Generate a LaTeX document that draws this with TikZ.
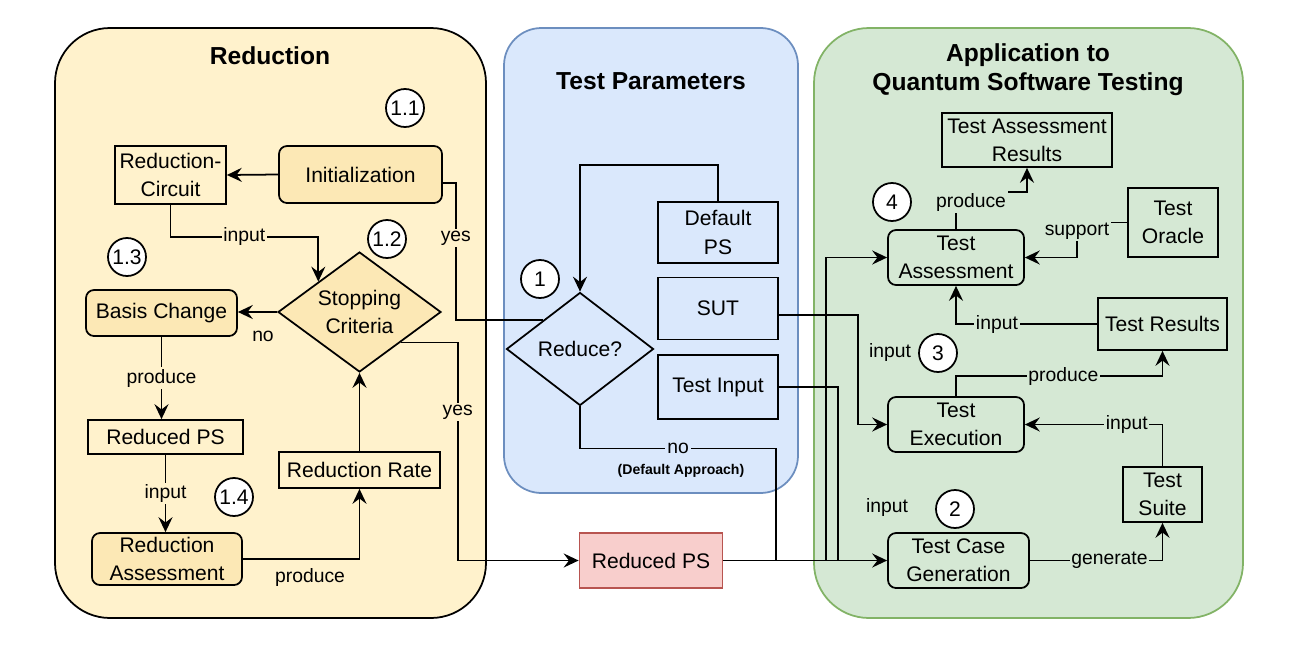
\documentclass[tikz,border=0pt]{standalone}
\usepackage{fontspec}
\setmainfont{Liberation Sans}
\usepackage{xcolor}
\usepackage{tikz}
\usetikzlibrary{calc}
\usetikzlibrary{shapes.geometric}
\usetikzlibrary{arrows.meta}
\definecolor{redbg}{HTML}{FFF2CC}
\definecolor{procfill}{HTML}{FCE8B5}
\definecolor{parbg}{HTML}{DAE8FC}
\definecolor{parline}{HTML}{6C8EBF}
\definecolor{appbg}{HTML}{D5E8D4}
\definecolor{appline}{HTML}{82B366}
\definecolor{psfill}{HTML}{F8CECC}
\definecolor{psline}{HTML}{B85450}
\tikzstyle{panel} = [line width=1pt]
\tikzstyle{paneltitle} = [font=\fontsize{14}{16.5}\selectfont\bfseries, align=center]
\tikzstyle{plainbox} = [draw=black, line width=1pt, rectangle, align=center,
inner sep=2pt, font=\fontsize{12}{16}\selectfont]
\tikzstyle{procbox} = [plainbox, rounded corners=1.6mm]
\tikzstyle{decision} = [draw=black, line width=1pt, diamond, inner sep=0pt,
align=center, font=\fontsize{12}{16}\selectfont]
\tikzstyle{stepnum} = [draw=black, line width=1pt, fill=white, circle,
minimum size=7.6mm, inner sep=0pt, font=\fontsize{12}{14}\selectfont]
\tikzstyle{lbl} = [inner sep=1pt, font=\fontsize{11}{13}\selectfont]
\tikzstyle{conn} = [line width=1pt]
\tikzstyle{arr} = [conn, -{Stealth[length=8.5pt,width=8pt,inset=3pt]}]

\begin{document}
\begin{tikzpicture}[x=0.2mm, y=-0.2mm]
        \useasboundingbox (0,0) rectangle (1300,650);
        \draw[panel, draw=black, fill=redbg, rounded corners=11mm] (55,28) rectangle (486,618);
        \draw[panel, draw=parline, fill=parbg, rounded corners=7.5mm] (504,28) rectangle (798,493);
        \draw[panel, draw=appline, fill=appbg, rounded corners=11mm] (814,28) rectangle (1243,618);
        \node[paneltitle] (redtitle) at (270,56) {Reduction};
        \node[paneltitle] (partitle) at (651,81) {Test Parameters};
        \node[paneltitle] (apptitle) at (1028,70) {Application to\\Quantum Software Testing};

        \node[plainbox, minimum width=22.2mm, minimum height=11.6mm] (rcirc) at (170.5,175) {Reduction-\\Circuit};
        \node[procbox, fill=procfill, minimum width=32.6mm, minimum height=11.4mm] (init) at (360.5,174.5) {Initialization};
        \node[stepnum] (s11) at (405,108) {1.1};
        \node[decision, fill=procfill, shape aspect=1.36, minimum width=32.6mm, minimum height=24mm] (stop) at (359.5,312) {Stopping\\Criteria};
        \node[stepnum] (s12) at (387,239) {1.2};
        \node[stepnum] (s13) at (127,257) {1.3};
        \node[procbox, fill=procfill, minimum width=30.2mm, minimum height=9.2mm] (basis) at (161.5,313) {Basis Change};
        \node[plainbox, minimum width=31mm, minimum height=6.8mm] (redps) at (165.5,437) {Reduced PS};
        \node[stepnum] (s14) at (234,497) {1.4};
        \node[procbox, fill=procfill, minimum width=30mm, minimum height=10.4mm] (redassess) at (167,559) {Reduction\\Assessment};
        \node[plainbox, minimum width=32.2mm, minimum height=7.2mm] (redrate) at (359.5,470) {Reduction Rate};

        \node[decision, shape aspect=1.3, minimum width=29.4mm, minimum height=22.6mm] (reduce) at (580,349) {Reduce?};
        \node[stepnum] (s1) at (540,279) {1};
        \node[plainbox, minimum width=24mm, minimum height=12.2mm] (defps) at (718,232.5) {Default\\PS};
        \node[plainbox, minimum width=24mm, minimum height=12.4mm] (sut) at (718,308.5) {SUT};
        \node[plainbox, minimum width=24mm, minimum height=12.8mm] (tinput) at (718,387) {Test Input};
        \node[font=\fontsize{8}{10}\selectfont\bfseries] (defapp) at (681,471) {(Default Approach)};
        \node[plainbox, draw=psline, fill=psfill, minimum width=28.6mm, minimum height=11mm] (finalps) at (651,560.5) {Reduced PS};

        \node[plainbox, minimum width=34mm, minimum height=10.8mm] (tares) at (1027,140) {Test Assessment\\Results};
        \node[stepnum] (s4) at (892,202) {4};
        \node[procbox, minimum width=27.2mm, minimum height=11mm] (tassess) at (956,257.5) {Test\\Assessment};
        \node[plainbox, minimum width=18mm, minimum height=13.8mm] (oracle) at (1173,222.5) {Test\\Oracle};
        \node[plainbox, minimum width=25.8mm, minimum height=10.4mm] (tres) at (1162.5,324) {Test Results};
        \node[stepnum] (s3) at (938,353) {3};
        \node[lbl] (inexec) at (890,352) {input};
        \node[procbox, minimum width=27.2mm, minimum height=11mm] (texec) at (956,424.5) {Test\\Execution};
        \node[plainbox, minimum width=15.8mm, minimum height=11mm] (tsuite) at (1162.5,494.5) {Test\\Suite};
        \node[stepnum] (s2) at (955,509) {2};
        \node[lbl] (ingen) at (887,507) {input};
        \node[procbox, minimum width=28.2mm, minimum height=11mm] (tcgen) at (958.5,560.5) {Test Case\\Generation};

        \draw[arr] (init.west) -- (rcirc.east);
        \draw[arr] (rcirc.south) -- ++(0,32) -| node[lbl, fill=redbg, pos=0.25] {input} (stop.north west);
        \draw[arr] (stop.west) -- (stop.west -| basis.east);
        \node[lbl] (nolbl) at (263,336) {no};
        \draw[arr] (basis.south) -- node[lbl, fill=redbg] {produce} (basis.south |- redps.north);
        \draw[arr] (redps.south) -- node[lbl, fill=redbg] {input} (redps.south |- redassess.north);
        \draw[arr] (redassess.east) -| (redrate.south);
        \node[lbl] (prodlbl) at (310,577) {produce};
        \draw[arr] (redrate.north) -- (stop.south);
        \draw[arr] (stop.south east) -- ++(57,0) |- node[lbl, fill=redbg, pos=0.16] {yes} (finalps.west);

        \draw[arr] (defps.north) -- ++(0,-36) -| (reduce.north);
        \draw[conn] (reduce.north west) -- ++(-87,0) |- node[lbl, fill=redbg, pos=0.3] {yes} ($(init.east)+(0,8.5)$);
        \coordinate (jno) at (776,560.5);
        \coordinate (jta) at (826,560.5);
        \coordinate (jti) at (838,560.5);
        \draw[conn] (reduce.south) -- ++(0,42) -| node[lbl, fill=parbg, pos=0.25] {no} (jno);
        \draw[arr] ($(sut.east)+(0,6.5)$) -| ($(texec.west)+(-29,0)$) -- (texec.west);
        \draw[conn] (tinput.east) -| (jti);
        \draw[arr] (finalps.east) -- (tcgen.west);
        \draw[arr] (jta) |- (tassess.west);

        \draw[arr] (tassess.north) -- ++(0,-37) -| (tares.south);
        \node[lbl, fill=appbg] (prodta) at (971,202) {produce};
        \draw[arr] (oracle.west) -| ($(tassess.east)+(52,0)$) -- (tassess.east);
        \node[lbl, fill=appbg] (suplbl) at (1077,231) {support};
        \draw[arr] (tres.west) -| node[lbl, fill=appbg, pos=0.355] {input} (tassess.south);
        \draw[arr] (texec.north) -- ++(0,-20) -| node[lbl, fill=appbg, pos=0.26] {produce} (tres.south);
        \draw[arr] (tsuite.north) |- node[lbl, fill=appbg, pos=0.63] {input} (texec.east);
        \draw[arr] (tcgen.east) -| node[lbl, fill=appbg, pos=0.3] {generate} (tsuite.south);
    \end{tikzpicture}
\end{document}
